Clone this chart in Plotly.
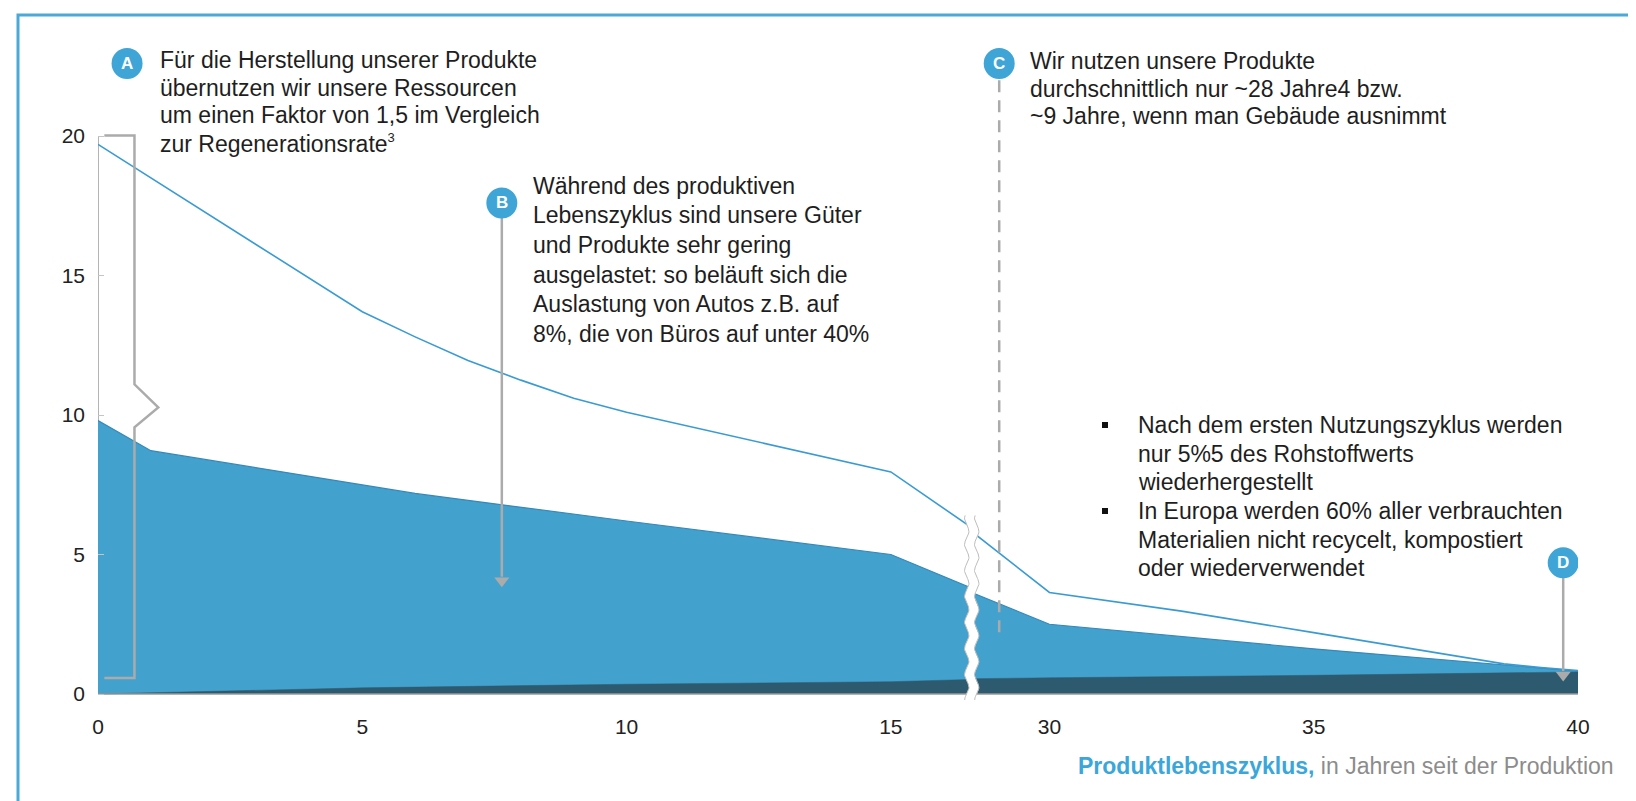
import numpy as np
import plotly.graph_objects as go

# ---------------- data ----------------
upper_years = [0, 5, 6, 7, 8, 9, 10, 15, 16.5, 28.6, 30, 32.5, 35, 37.5, 38.6, 39.3, 40]
upper_values = [19.7, 13.7, 12.8, 11.95, 11.25, 10.6, 10.1, 7.96, 6.0, 5.72, 3.64, 2.97, 2.2, 1.42, 1.08, 0.95, 0.84]

lower_years = [0, 1, 6, 10, 15, 16.5, 28.6, 30, 35, 37.5, 40]
lower_values = [9.8, 8.72, 7.19, 6.2, 5.0, 3.82, 3.58, 2.5, 1.62, 1.21, 0.82]

dark_years = [0, 5, 10, 15, 16.5, 28.6, 30, 35, 40]
dark_values = [0.0, 0.22, 0.35, 0.44, 0.52, 0.55, 0.58, 0.67, 0.79]

x_tick_years = [0, 5, 10, 15, 30, 35, 40]
y_tick_values = [0, 5, 10, 15, 20]

text_a = ["Für die Herstellung unserer Produkte",
          "übernutzen wir unsere Ressourcen",
          "um einen Faktor von 1,5 im Vergleich",
          "zur Regenerationsrate<sup><span style='font-size:13px'>3</span></sup>"]
text_b = ["Während des produktiven",
          "Lebenszyklus sind unsere Güter",
          "und Produkte sehr gering",
          "ausgelastet: so beläuft sich die",
          "Auslastung von Autos z.B. auf",
          "8%, die von Büros auf unter 40%"]
text_c = ["Wir nutzen unsere Produkte",
          "durchschnittlich nur ~28 Jahre4 bzw.",
          "~9 Jahre, wenn man Gebäude ausnimmt"]
bullets_d = [["Nach dem ersten Nutzungszyklus werden",
              "nur 5%5 des Rohstoffwerts",
              "wiederhergestellt"],
             ["In Europa werden 60% aller verbrauchten",
              "Materialien nicht recycelt, kompostiert",
              "oder wiederverwendet"]]

# ---------------- broken axis scale ----------------
BREAK_LEFT_END = 16.5
BREAK_SHIFT = 12.0
BREAK_POS = 16.53


def pos(year):
    return year if year <= BREAK_LEFT_END else year - BREAK_SHIFT


def pos_list(years):
    return [pos(y) for y in years]


# ---------------- geometry ----------------
FW, FH = 1636, 801
ML, MR, MT, MB = 90, 66, 10, 109
PW, PH = FW - ML - MR, FH - MT - MB
X_RANGE = [0, 28]
X_UNIT = PW / (X_RANGE[1] - X_RANGE[0])
Y0_PX = 686.0
Y_UNIT = 27.9
Y_RANGE = [(Y0_PX - (FH - MB)) / Y_UNIT, (Y0_PX - MT) / Y_UNIT]


def px_x(px):
    return (px - ML) / PW


def px_y(py):
    return 1 - (py - MT) / PH


FONT = "Liberation Sans, Arial, Helvetica, sans-serif"
TEXT_COLOR = "#1e1e1e"
BLUE_FILL = "#43a1ce"
BLUE_EDGE = "#3588b9"
DARK_FILL = "#2d5a6e"
LINE_BLUE = "#3a9bd3"
BADGE = "#3ea5d6"
GRAY = "#ababab"

fig = go.Figure()

# blue area
fig.add_trace(go.Scatter(x=pos_list(lower_years), y=lower_values, mode="lines",
                         fill="tozeroy", fillcolor=BLUE_FILL,
                         line=dict(color=BLUE_EDGE, width=1.2), hoverinfo="skip",
                         showlegend=False))
# dark area
fig.add_trace(go.Scatter(x=pos_list(dark_years), y=dark_values, mode="lines",
                         fill="tozeroy", fillcolor=DARK_FILL,
                         line=dict(color=DARK_FILL, width=0.5), hoverinfo="skip",
                         showlegend=False))
# upper line
fig.add_trace(go.Scatter(x=pos_list(upper_years), y=upper_values, mode="lines",
                         line=dict(color=LINE_BLUE, width=1.6), hoverinfo="skip",
                         showlegend=False))
# x axis line
fig.add_trace(go.Scatter(x=[X_RANGE[0], pos(x_tick_years[-1])], y=[0, 0], mode="lines",
                         line=dict(color="#9a9a9a", width=1.5), hoverinfo="skip",
                         showlegend=False))

# axis break (white band with wavy grey edges)
wy = np.linspace(Y_RANGE[0] - 0.05, 6.4, 160)
amp = 2.2 / X_UNIT
half = 5.0 / X_UNIT
wave = amp * np.sin(2 * np.pi * wy * Y_UNIT / 26.0)
left_edge = BREAK_POS - half + wave
right_edge = BREAK_POS + half + wave
fig.add_trace(go.Scatter(x=np.concatenate([left_edge, right_edge[::-1]]),
                         y=np.concatenate([wy, wy[::-1]]),
                         mode="lines", fill="toself", fillcolor="white",
                         line=dict(width=0, color="white"), hoverinfo="skip",
                         showlegend=False))
for edge in (left_edge, right_edge):
    fig.add_trace(go.Scatter(x=edge, y=wy, mode="lines",
                             line=dict(color="#bdbdbd", width=1), hoverinfo="skip",
                             showlegend=False))

shapes = []
annotations = []

# y axis line
shapes.append(dict(type="line", xref="x", yref="y", x0=0, x1=0, y0=0, y1=20,
                   line=dict(color="#6a6a6a", width=1), layer="below"))

# bracket A
bx = [0.12, 0.69, 0.69, 1.14, 0.69, 0.69, 0.12]
by = [20.02, 20.02, 11.1, 10.27, 9.56, 0.57, 0.57]
path = "M " + " L ".join(f"{a},{b}" for a, b in zip(bx, by))
shapes.append(dict(type="path", xref="x", yref="y", path=path,
                   line=dict(color=GRAY, width=2.5)))

# dashed line C
c_x = pos(29.05)
shapes.append(dict(type="line", xref="x", yref="y", x0=c_x, x1=c_x, y0=22.0, y1=1.95,
                   line=dict(color=GRAY, width=2.5, dash="12px,8px")))

# arrows B and D (line + triangular head)
b_x, b_y = 7.64, 17.6
d_x, d_y = pos(39.72), 4.7
arrows = [(b_x, b_y, 3.83), (d_x, d_y, 0.45)]
head_h = 13 / Y_UNIT
for ax_, start_y, tip_y in arrows:
    shapes.append(dict(type="line", xref="x", yref="y", x0=ax_, x1=ax_,
                       y0=start_y - 0.5, y1=tip_y + head_h * 0.8,
                       line=dict(color=GRAY, width=2.5)))
fig.add_trace(go.Scatter(x=[a[0] for a in arrows], y=[a[2] + head_h * 0.5 for a in arrows],
                         mode="markers", marker=dict(symbol="triangle-down", size=13,
                                                     color=GRAY, line=dict(width=0)),
                         hoverinfo="skip", showlegend=False, cliponaxis=False))

# badges
badges = [("A", 0.55, 22.6), ("B", b_x, b_y), ("C", c_x, 22.6), ("D", d_x, d_y)]
for letter, bxp, byp in badges:
    shapes.append(dict(type="circle", xref="x", yref="y", xsizemode="pixel",
                       ysizemode="pixel", xanchor=bxp, yanchor=byp,
                       x0=-15.5, x1=15.5, y0=-15.5, y1=15.5,
                       fillcolor=BADGE, line=dict(color=BADGE, width=0)))
    annotations.append(dict(x=bxp, y=byp, xref="x", yref="y", text=f"<b>{letter}</b>",
                            showarrow=False, font=dict(family=FONT, size=17, color="white"),
                            xanchor="center", yanchor="middle"))


def add_lines(lines, left_px, first_y_px, spacing):
    for i, line in enumerate(lines):
        annotations.append(dict(x=px_x(left_px), y=px_y(first_y_px + i * spacing),
                                xref="paper", yref="paper", text=line, showarrow=False,
                                xanchor="left", yanchor="middle",
                                font=dict(family=FONT, size=23, color=TEXT_COLOR)))


add_lines(text_a, 150, 51.7, 27.8)
add_lines(text_b, 523, 178, 29.5)
add_lines(text_c, 1020, 53, 27.6)
bullet_first = [417, 503]
for lines, y_first in zip(bullets_d, bullet_first):
    add_lines(lines, 1128, y_first, 28.6)
    shapes.append(dict(type="rect", xref="paper", yref="paper", xsizemode="pixel",
                       ysizemode="pixel", xanchor=px_x(1097), yanchor=px_y(y_first),
                       x0=-3, x1=3, y0=-3, y1=3, fillcolor="#111111",
                       line=dict(width=0)))

# x axis title
annotations.append(dict(x=px_x(1608), y=px_y(758), xref="paper", yref="paper",
                        xanchor="right", yanchor="middle", showarrow=False,
                        text="<b><span style='color:#3ba6d9'>Produktlebenszyklus,</span></b>"
                             "<span style='color:#8c8c8c'> in Jahren seit der Produktion</span>",
                        font=dict(family=FONT, size=23)))

# outer frame
shapes.append(dict(type="rect", xref="paper", yref="paper",
                   x0=px_x(10), x1=px_x(1632), y0=px_y(799), y1=px_y(7),
                   line=dict(color="#4aa9d9", width=3)))

fig.update_layout(
    width=FW, height=FH,
    margin=dict(l=ML, r=MR, t=MT, b=MB, pad=0),
    paper_bgcolor="white", plot_bgcolor="white",
    showlegend=False,
    shapes=shapes, annotations=annotations,
    font=dict(family=FONT, color=TEXT_COLOR),
    xaxis=dict(range=X_RANGE, tickvals=pos_list(x_tick_years),
               ticktext=[str(t) for t in x_tick_years], showgrid=False, zeroline=False,
               showline=False, ticks="", ticklabelstandoff=12,
               tickfont=dict(family=FONT, size=21, color="#222222"), fixedrange=True),
    yaxis=dict(range=Y_RANGE, tickvals=y_tick_values,
               ticktext=[str(t) for t in y_tick_values], showgrid=False, zeroline=False,
               showline=False, ticks="inside", ticklen=6, tickcolor="#c4c4c4",
               ticklabelstandoff=12,
               tickfont=dict(family=FONT, size=21, color="#222222"), fixedrange=True),
)

fig.write_html("out.html")
